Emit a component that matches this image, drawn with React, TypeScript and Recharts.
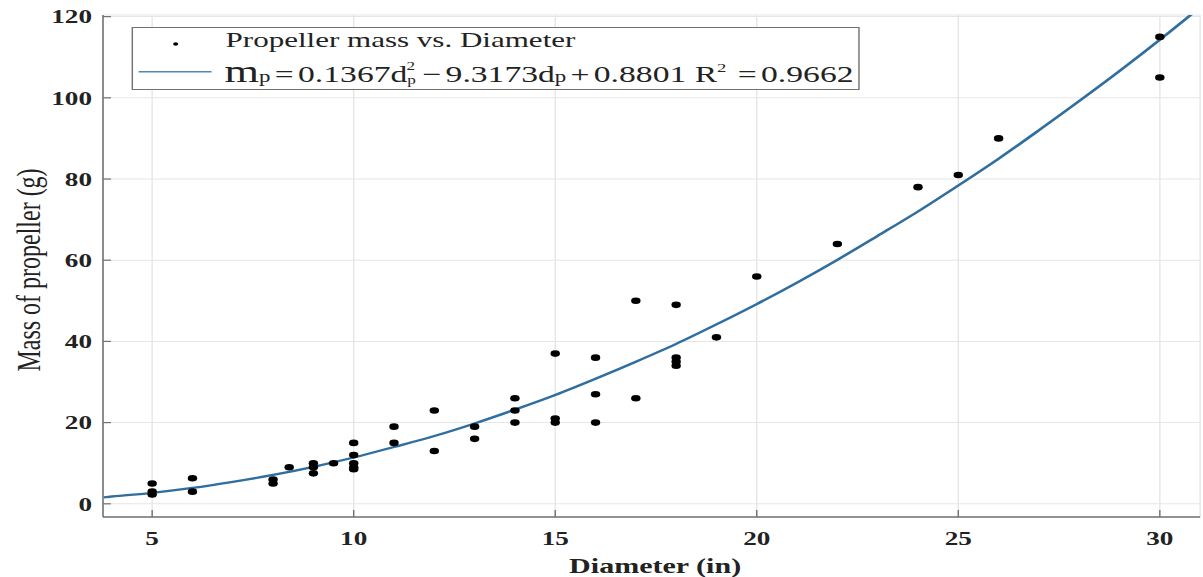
import React from 'react';
import {
  ComposedChart,
  Line,
  Scatter,
  XAxis,
  YAxis,
  CartesianGrid,
  Legend,
} from 'recharts';

// ---- data ----
const propDiameter = [
  5, 5, 5, 6, 6, 8, 8, 8.4, 9, 9, 9, 9.5, 10, 10, 10, 10, 10, 11, 11, 12, 12, 13, 13,
  14, 14, 14, 15, 15, 15, 16, 16, 16, 17, 17, 18, 18, 18, 18, 19, 20, 22, 24, 25, 26, 30, 30,
];
const propMass = [
  5, 3, 2.3, 6.3, 3, 6, 5, 9, 10, 9, 7.5, 10, 15, 12, 10, 9, 8.5, 19, 15, 23, 13, 19, 16,
  26, 23, 20, 37, 21, 20, 36, 27, 20, 50, 26, 49, 36, 35, 34, 41, 56, 64, 78, 81, 90, 115, 105,
];

const fitDiameter = [
  3.8, 4, 5, 6, 7, 8, 9, 10, 11, 12, 13, 14, 15, 16, 17, 18, 19, 20, 21, 22, 23, 24, 25, 26, 27,
  28, 29, 30, 31,
];
const fitMass = [
  1.6, 1.8, 2.7, 3.9, 5.4, 7.1, 9.1, 11.4, 14.0, 16.7, 19.8, 23.2, 26.8, 30.8, 35.0, 39.4, 44.2,
  49.2, 54.5, 60.1, 66.0, 72.0, 78.4, 85.0, 92.0, 99.2, 106.6, 114.3, 122.3,
];

const xTicks = [5, 10, 15, 20, 25, 30];
const yTicks = [0, 20, 40, 60, 80, 100, 120];

const scatterName = 'Propeller mass vs. Diameter';
const xLabel = 'Diameter (in)';
const yLabel = 'Mass of propeller (g)';

const scatterData = propDiameter.map((x, i) => ({ x, y: propMass[i] }));
const fitData = fitDiameter.map((x, i) => ({ x, y: fitMass[i] }));

// ---- styles ----
const FONT = '"Liberation Serif", "DejaVu Serif", serif';
const LINE_COLOR = '#2f6e9f';
const AXIS_COLOR = '#727272';
const GRID_COLOR = '#e6e6e6';
const TEXT_COLOR = '#222';

const FULL_W = 1203;
const FULL_H = 577;
const INNER_W = 841;
const STRETCH = FULL_W / INNER_W;

const X_DOMAIN: [number, number] = [3.78, 31.0];
const Y_DOMAIN: [number, number] = [-3.25, 120.4];

const tickStyle = {
  fontFamily: FONT,
  fontSize: 19,
  fontWeight: 'bold' as const,
  fill: TEXT_COLOR,
};

const Dot = (props: any) => {
  const { cx, cy } = props;
  if (cx == null || cy == null) return null;
  return <circle cx={cx} cy={cy} r={3.3} fill="#000" />;
};

const LegendBox = () => (
  <svg width={509} height={63} style={{ display: 'block', overflow: 'visible' }}>
    <rect x={0.5} y={0.5} width={508} height={62} fill="#fff" stroke={AXIS_COLOR} strokeWidth={1} />
    <circle cx={30.8} cy={17} r={1.8} fill="#000" />
    <text x={65.7} y={19.7} fontFamily={FONT} fontSize={21.7} fill={TEXT_COLOR}>
      {scatterName}
    </text>
    <line x1={4.9} x2={55.9} y1={44.7} y2={44.7} stroke="#4f88b6" strokeWidth={1.6} />
    <text x={65} y={54.7} fontFamily={FONT} fontSize={23.5} fill={TEXT_COLOR}>
      <tspan fontSize={31}>m</tspan>
      <tspan fontSize={16}>p</tspan>
      <tspan dx={3}>=</tspan>
      <tspan dx={3}>0.1367d</tspan>
      <tspan fontSize={12} dy={2}>p</tspan>
      <tspan fontSize={12} dx={-6.5} dy={-14}>2</tspan>
      <tspan dx={5} dy={12}>−</tspan>
      <tspan dx={3}>9.3173d</tspan>
      <tspan fontSize={16}>p</tspan>
      <tspan dx={3}>+</tspan>
      <tspan dx={3}>0.8801 R</tspan>
      <tspan fontSize={13} dy={-10}>2</tspan>
      <tspan dx={8} dy={10}>=</tspan>
      <tspan dx={3}>0.9662</tspan>
    </text>
  </svg>
);

const YLabelContent = (props: any) => {
  const vb = props.viewBox || { x: 0, y: 15, width: 72, height: 502 };
  const cx = 20;
  const cy = vb.y + vb.height / 2 + 4;
  return (
    <text
      x={cx}
      y={cy}
      transform={`rotate(-90 ${cx} ${cy})`}
      textAnchor="middle"
      dominantBaseline="central"
      fontFamily={FONT}
      fontSize={24}
      fill={TEXT_COLOR}
    >
      {yLabel}
    </text>
  );
};

const XLabelContent = (props: any) => {
  const vb = props.viewBox || { x: 72, y: 517, width: 767, height: 60 };
  const cx = vb.x + vb.width / 2 + 2.5;
  return (
    <text
      x={cx}
      y={573}
      textAnchor="middle"
      fontFamily={FONT}
      fontSize={21}
      fontWeight="bold"
      fill={TEXT_COLOR}
    >
      {xLabel}
    </text>
  );
};

export default function App() {
  return (
    <div
      style={{
        position: 'absolute',
        left: 0,
        top: 0,
        width: FULL_W,
        height: FULL_H,
        overflow: 'hidden',
        background: '#fff',
      }}
    >
      <div
        style={{
          width: INNER_W,
          height: FULL_H,
          transform: `scaleX(${STRETCH})`,
          transformOrigin: '0 0',
        }}
      >
        <ComposedChart
          width={INNER_W}
          height={FULL_H}
          margin={{ top: 15, right: 2, bottom: 0, left: 0 }}
        >
          <CartesianGrid stroke={GRID_COLOR} strokeWidth={1} />
          <XAxis
            xAxisId={0}
            dataKey="x"
            type="number"
            domain={X_DOMAIN}
            allowDataOverflow
            ticks={xTicks}
            height={60}
            tickSize={-7}
            tickMargin={21.5}
            tick={tickStyle}
            axisLine={{ stroke: AXIS_COLOR, strokeWidth: 1.5 }}
            tickLine={{ stroke: AXIS_COLOR, strokeWidth: 1 }}
            label={<XLabelContent />}
          />
          <XAxis
            xAxisId="top"
            dataKey="x"
            type="number"
            orientation="top"
            domain={X_DOMAIN}
            allowDataOverflow
            ticks={xTicks}
            height={0}
            tickSize={-6}
            tick={false}
            axisLine={{ stroke: AXIS_COLOR, strokeWidth: 1.5 }}
            tickLine={{ stroke: AXIS_COLOR, strokeWidth: 1 }}
          />
          <YAxis
            yAxisId={0}
            type="number"
            domain={Y_DOMAIN}
            allowDataOverflow
            ticks={yTicks}
            width={72}
            tickSize={-5.6}
            tickMargin={13.3}
            tick={tickStyle}
            axisLine={{ stroke: AXIS_COLOR, strokeWidth: 1.1 }}
            tickLine={{ stroke: AXIS_COLOR, strokeWidth: 1.2 }}
            label={<YLabelContent />}
          />
          <YAxis
            yAxisId="right"
            type="number"
            orientation="right"
            domain={Y_DOMAIN}
            allowDataOverflow
            ticks={yTicks}
            width={0}
            tickSize={-5}
            tick={false}
            axisLine={{ stroke: AXIS_COLOR, strokeWidth: 1.1 }}
            tickLine={{ stroke: AXIS_COLOR, strokeWidth: 1.2 }}
          />
          <Legend
            layout="vertical"
            verticalAlign="middle"
            align="center"
            content={() => <LegendBox />}
            wrapperStyle={{ position: 'absolute', left: 91.6, top: 27, width: 509, height: 63 }}
          />
          <Line
            xAxisId={0}
            yAxisId={0}
            data={fitData}
            dataKey="y"
            type="monotone"
            stroke={LINE_COLOR}
            strokeWidth={2.3}
            dot={false}
            activeDot={false}
            isAnimationActive={false}
            legendType="line"
          />
          <Scatter
            xAxisId={0}
            yAxisId={0}
            name={scatterName}
            data={scatterData}
            dataKey="y"
            fill="#000"
            shape={<Dot />}
            isAnimationActive={false}
          />
        </ComposedChart>
      </div>
    </div>
  );
}
